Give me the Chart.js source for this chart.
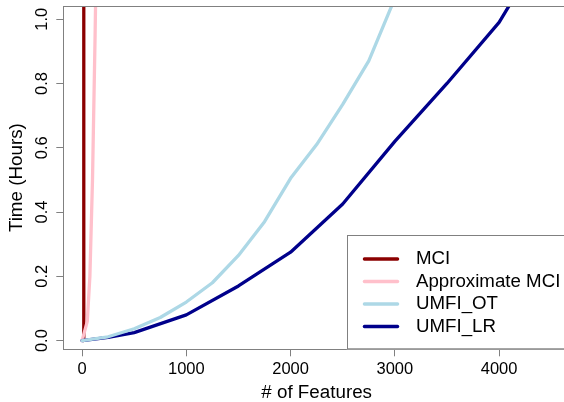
<!DOCTYPE html>
<html><head><meta charset="utf-8">
<script src="https://cdn.jsdelivr.net/npm/chart.js@4/dist/chart.umd.min.js"></script>
<style>
html,body{margin:0;padding:0;overflow:hidden;background:#fff;width:564px;height:402px}
#wrap{position:absolute;left:0;top:0;width:580px;height:402px}
</style>
</head><body><div id="wrap"><canvas id="c" width="580" height="402"></canvas></div>
<script>
// ---- data ----
const mciX = [15, 16, 17];
const mciY = [0, 0.4, 20];
const approxX = [0, 50, 75, 100, 125, 150];
const approxY = [0, 0.06, 0.2, 0.5, 0.95, 1.5];
const otX = [0, 250, 500, 750, 1000, 1250, 1500, 1750, 2000, 2250, 2500, 2750, 3000];
const otY = [0, 0.012, 0.037, 0.072, 0.12, 0.18, 0.265, 0.37, 0.505, 0.61, 0.735, 0.87, 1.065];
const lrX = [0, 250, 500, 1000, 1500, 2000, 2500, 3000, 3500, 4000, 4500];
const lrY = [0, 0.01, 0.025, 0.08, 0.17, 0.275, 0.425, 0.62, 0.80, 0.99, 1.26];
const xTicks = [0, 1000, 2000, 3000, 4000];
const yTicks = [0, 0.2, 0.4, 0.6, 0.8, 1.0];
const seriesNames = ['MCI', 'Approximate MCI', 'UMFI_OT', 'UMFI_LR'];
const seriesColors = ['#8B0000', '#FFC0CB', '#ADD8E6', '#00008B'];
const xTitle = '# of Features';
const yTitle = 'Time (Hours)';

const FONT = '"Liberation Sans", Arial, sans-serif';
const AXIS = '#808080';

function pts(xs, ys) { return xs.map((x, i) => ({x: x, y: ys[i]})); }
const seriesData = [pts(mciX, mciY), pts(approxX, approxY), pts(otX, otY), pts(lrX, lrY)];
const drawOrder = [4, 3, 1, 2];

const datasets = seriesNames.map((n, i) => ({
  label: n,
  data: seriesData[i],
  borderColor: seriesColors[i],
  backgroundColor: seriesColors[i],
  borderWidth: 3.3,
  pointRadius: 0,
  tension: 0,
  fill: false,
  borderJoinStyle: 'round',
  borderCapStyle: 'round',
  order: drawOrder[i]
}));

const frame = {
  id: 'frame',
  afterDraw(chart) {
    const {ctx, chartArea: a} = chart;
    ctx.save();
    ctx.strokeStyle = AXIS;
    ctx.lineWidth = 1;
    ctx.beginPath();
    ctx.moveTo(a.left, a.top + 0.5);
    ctx.lineTo(a.right, a.top + 0.5);
    ctx.stroke();
    // legend
    const left = a.right - 223.3, top = a.bottom - 114.3;
    ctx.fillStyle = '#fff';
    ctx.fillRect(left, top, a.right - left, a.bottom - top);
    ctx.strokeStyle = AXIS;
    ctx.lineWidth = 1;
    ctx.strokeRect(Math.round(left) + 0.5, Math.round(top) + 0.5, a.right - left, a.bottom - top - 1);
    ctx.font = '18.7px ' + FONT;
    ctx.textBaseline = 'middle';
    ctx.textAlign = 'left';
    chart.data.datasets.forEach((ds, i) => {
      const y = top + 24 + i * 22.5;
      ctx.strokeStyle = ds.borderColor;
      ctx.lineWidth = 3.3;
      ctx.lineCap = 'round';
      ctx.beginPath();
      ctx.moveTo(left + 17.7, y);
      ctx.lineTo(left + 50.9, y);
      ctx.stroke();
      ctx.fillStyle = '#000';
      ctx.fillText(ds.label, left + 69.3, y);
    });
    ctx.restore();
  }
};

new Chart(document.getElementById('c'), {
  type: 'line',
  data: {datasets: datasets},
  options: {
    responsive: false,
    animation: false,
    devicePixelRatio: 1,
    layout: {padding: {left: 0, top: 6, right: 10, bottom: 0}},
    plugins: {legend: {display: false}, tooltip: {enabled: false}},
    scales: {
      x: {
        type: 'linear',
        min: -180, max: 4680,
        afterBuildTicks: s => { s.ticks = xTicks.map(v => ({value: v})); },
        afterFit: s => { s.height = 52.7; s.paddingLeft = 0; s.paddingRight = 0; },
        ticks: {autoSkip: false, color: '#000', padding: 3, maxRotation: 0, minRotation: 0,
                font: {family: FONT, size: 16.5}, callback: v => String(v)},
        grid: {drawOnChartArea: false, drawTicks: true, tickLength: 7, color: AXIS, lineWidth: 1},
        border: {display: true, color: AXIS, width: 1},
        title: {display: true, text: xTitle, color: '#000', font: {family: FONT, size: 18.8, lineHeight: 1}, padding: {top: 0, bottom: 0}}
      },
      y: {
        type: 'linear',
        min: -0.027, max: 1.041,
        afterBuildTicks: s => { s.ticks = yTicks.map(v => ({value: v})); },
        afterFit: s => { s.width = 63.3; s.paddingTop = 0; s.paddingBottom = 0; },
        ticks: {autoSkip: false, color: '#000', padding: 2.3, minRotation: 90, maxRotation: 90, crossAlign: 'center',
                font: {family: FONT, size: 16.5}, callback: v => Number(v).toFixed(1)},
        grid: {drawOnChartArea: false, drawTicks: true, tickLength: 7, color: AXIS, lineWidth: 1},
        border: {display: true, color: AXIS, width: 1},
        title: {display: true, text: yTitle, color: '#000', font: {family: FONT, size: 18.8, lineHeight: 1}, padding: {top: 7.6, bottom: 0}}
      }
    }
  },
  plugins: [frame]
});
</script>
</body></html>
